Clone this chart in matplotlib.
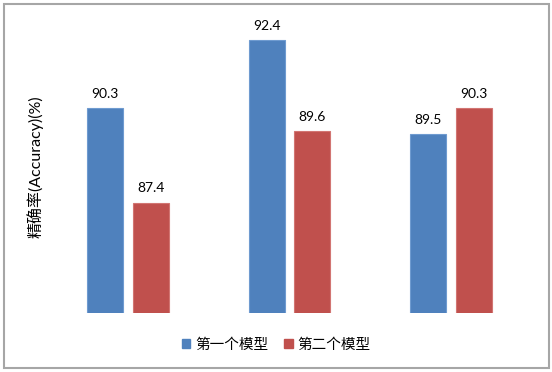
import matplotlib
matplotlib.use("Agg")
import matplotlib.pyplot as plt
from matplotlib.patches import Rectangle, Patch
import numpy as np

plt.rcParams['font.family'] = ['Lato', 'Noto Sans CJK SC', 'DejaVu Sans']

groups = ["组1", "组2", "组3"]
series_names = ["第一个模型", "第二个模型"]
model1 = [90.3, 92.4, 89.5]
model2 = [87.4, 89.6, 90.3]
colors = ["#4F81BD", "#C0504D"]
edge_colors = ["#6F9BD0", "#D27572"]

W, H = 552, 372
fig = plt.figure(figsize=(W / 100, H / 100), dpi=100)

# outer chart frame
fig.patches.append(Rectangle((4 / W, 4 / H), 545 / W, 364 / H, transform=fig.transFigure,
                             fill=False, edgecolor="#A6A6A6", linewidth=1.5))

ax = fig.add_axes([47 / W, 59 / H, 485 / W, 298 / H])
x = np.arange(len(groups))
offset = 0.142
width = 0.223

for vals, off, c, ec in zip([model1, model2], [-offset, offset], colors, edge_colors):
    bars = ax.bar(x + off, vals, width, bottom=0, color=c, edgecolor=ec, linewidth=0.8)
    for b, v in zip(bars, vals):
        ax.annotate(f"{v}", (b.get_x() + b.get_width() / 2, v), xytext=(0, 6),
                    textcoords="offset points", ha="center", va="bottom", fontsize=10)

ax.set_xlim(-0.5, 2.5)
ax.set_ylim(84, 84 + 298 / 32.5)
for s in ax.spines.values():
    s.set_visible(False)
ax.set_xticks([])
ax.set_yticks([])

fig.text(35 / W, 1 - 167 / H, "精确率(Accuracy)(%)", rotation=90, ha="center", va="center",
         fontsize=11.5)

handles = [Patch(facecolor=c, edgecolor=c) for c in colors]
fig.legend(handles, series_names, loc="center", bbox_to_anchor=(0.5, 1 - 345 / H), ncol=2,
           frameon=False, fontsize=10.5, handlelength=0.6, handleheight=0.6, handletextpad=0.3,
           columnspacing=1.1)

fig.savefig("out.png", dpi=100)
